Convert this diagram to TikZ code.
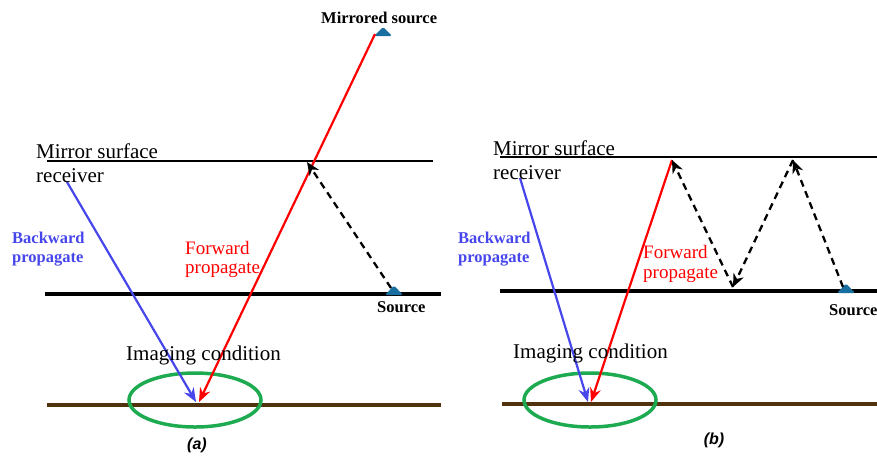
\documentclass[tikz,border=0pt]{standalone}
\usepackage{fontspec}
\setmainfont{Liberation Serif}
\newfontfamily\tnr{Liberation Serif}
\newfontfamily\capfont{Liberation Sans}
\usetikzlibrary{arrows.meta,shapes.geometric}
\definecolor{bluec}{RGB}{70,70,235}
\definecolor{redc}{RGB}{255,0,0}
\definecolor{greenc}{RGB}{30,170,80}
\definecolor{brownc}{RGB}{80,50,15}
\definecolor{tealc}{RGB}{25,110,160}
\begin{document}
\begin{tikzpicture}[x=1pt,y=-1pt,
  mirror/.style={line width=1.8pt, black},
  ground/.style={line width=3.2pt, black},
  layer/.style={line width=3.2pt, brownc},
  ray/.style={line width=2.2pt, -{Stealth[length=14pt,width=11pt]}},
  wave/.style={line width=2.3pt, black, dash pattern=on 7pt off 5pt, -{Stealth[length=13pt,width=11pt,inset=4pt]}},
  halo/.style={ellipse, draw=greenc, line width=3.5pt, inner sep=0pt, minimum width=132pt, minimum height=54pt},
  big/.style={font=\tnr\fontsize{21}{22}\selectfont, anchor=base west, inner sep=0pt},
  back/.style={font=\tnr\bfseries\fontsize{16.5}{18}\selectfont, text=bluec, anchor=base west, inner sep=0pt},
  fwd/.style={font=\tnr\fontsize{19}{20}\selectfont, text=redc, anchor=base west, inner sep=0pt},
  small/.style={font=\tnr\bfseries\fontsize{16.5}{18}\selectfont, anchor=base west, inner sep=0pt},
  panel/.style={font=\capfont\bfseries\itshape\fontsize{16}{18}\selectfont, inner sep=0pt},
  srcmark/.style={fill=tealc, rounded corners=1.5pt}
]
\useasboundingbox (0,0) rectangle (877,456);

% ---------------- panel (a) ----------------
\coordinate (aTopL) at (47,161);   \coordinate (aTopR) at (433,161);
\coordinate (aGrL) at (45,294);    \coordinate (aGrR) at (441,294);
\coordinate (aBrL) at (47,405);    \coordinate (aBrR) at (441,405);
\draw[mirror] (aTopL) -- (aTopR);
\draw[ground] (aGrL) -- (aGrR);
\draw[layer] (aBrL) -- (aBrR);

\node[halo] (aHalo) at (195,400) {};

\coordinate (aMS) at (383,32);
\coordinate (aS) at (394,291);
\fill[srcmark, shift={(aMS)}] (-9,4) -- (0,-5) -- (9,4) -- cycle;
\fill[srcmark, shift={(aS)}] (-9,4) -- (0,-5.5) -- (9,4) -- cycle;

\coordinate (aRedStart) at (375,34);
\coordinate (aRedEnd) at (199,402);
\coordinate (aBlueStart) at (67,182);
\coordinate (aBlueEnd) at (196,402);
\coordinate (aWaveStart) at (391,288);
\coordinate (aReflect) at (307,162);

\draw[ray, bluec] (aBlueStart) -- (aBlueEnd);
\draw[ray, redc] (aRedStart) -- (aRedEnd);
\draw[wave] (aWaveStart) -- (aReflect);

\node[big] (aMirror) at (36,158) {Mirror surface};
\node[big] (aRecv) at (36,182) {receiver};
\node[back] (aBack1) at (12,243) {Backward};
\node[back] (aBack2) at (12,262) {propagate};
\node[fwd] (aFwd1) at (185,254) {Forward};
\node[fwd] (aFwd2) at (185,273) {propagate};
\node[small] (aMSlbl) at (321,23) {Mirrored source};
\node[small] (aSlbl) at (377,312) {Source};
\node[big] (aImg) at (126,360) {Imaging condition};
\node[panel] (aCap) at (197,445) {(a)};

% ---------------- panel (b) ----------------
\coordinate (bTopL) at (500,157);  \coordinate (bTopR) at (877,157);
\coordinate (bGrL) at (500,291);   \coordinate (bGrR) at (877,291);
\coordinate (bBrL) at (502,404);   \coordinate (bBrR) at (877,404);
\draw[mirror] (bTopL) -- (bTopR);
\draw[ground] (bGrL) -- (bGrR);
\draw[layer] (bBrL) -- (bBrR);

\node[halo] (bHalo) at (590,400) {};

\coordinate (bS) at (846,289);
\fill[srcmark, shift={(bS)}] (-9,4) -- (0,-5.5) -- (9,4) -- cycle;

\coordinate (bWaveStart) at (843,287);
\coordinate (bUp2) at (793,160);
\coordinate (bDown) at (733,287);
\coordinate (bUp1) at (672,160);
\coordinate (bRedEnd) at (591,402);
\coordinate (bBlueStart) at (520,178);
\coordinate (bBlueEnd) at (588,402);

\draw[ray, bluec] (bBlueStart) -- (bBlueEnd);
\draw[ray, redc] (bUp1) -- (bRedEnd);
\draw[wave] (bWaveStart) -- (bUp2);
\draw[wave] (bUp2) -- (bDown);
\draw[wave] (bDown) -- (bUp1);

\node[big] (bMirror) at (493,155) {Mirror surface};
\node[big] (bRecv) at (493,179) {receiver};
\node[back] (bBack1) at (458,243) {Backward};
\node[back] (bBack2) at (458,262) {propagate};
\node[fwd] (bFwd1) at (643,258) {Forward};
\node[fwd] (bFwd2) at (643,278) {propagate};
\node[small] (bSlbl) at (829,315) {Source};
\node[big] (bImg) at (513,358) {Imaging condition};
\node[panel] (bCap) at (714,440) {(b)};
\end{tikzpicture}
\end{document}
